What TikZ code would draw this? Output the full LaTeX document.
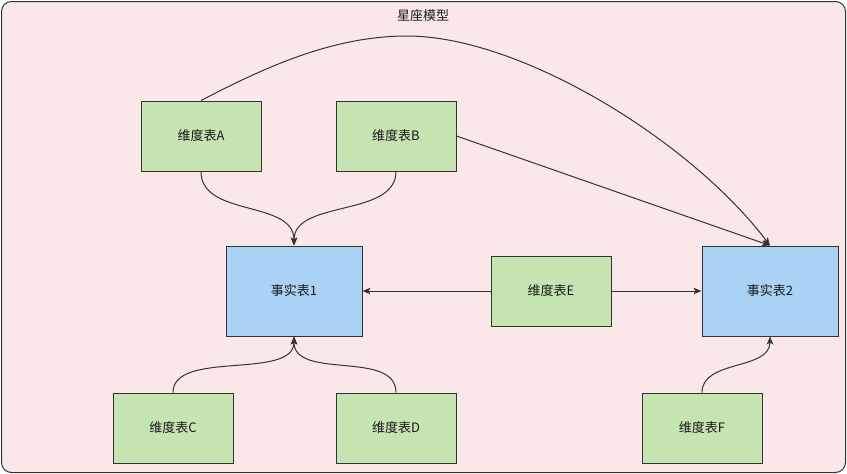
\documentclass[tikz,border=0pt]{standalone}
\usepackage{fontspec}
\setmainfont{Noto Sans CJK SC}
\usetikzlibrary{arrows.meta}
\definecolor{bgpink}{HTML}{FAE8E8}
\definecolor{dimgreen}{HTML}{C5E4B1}
\definecolor{factblue}{HTML}{AAD2F5}
\definecolor{edgegray}{HTML}{333333}
\begin{document}
\begin{tikzpicture}[x=1pt,y=-1pt,font=\fontsize{13}{15}\selectfont,
  box/.style={draw=edgegray,line width=1pt,inner sep=0pt,text=black!90},
  dim/.style={box,fill=dimgreen,minimum width=120pt,minimum height=70pt},
  fact/.style={box,fill=factblue,minimum width=136pt,minimum height=90pt},
  link/.style={draw=edgegray,line width=1pt,-{Stealth[length=8pt,width=6.5pt,inset=2pt]}}]
\useasboundingbox (0,0) rectangle (847,474);
\draw[draw=edgegray,fill=bgpink,line width=1pt,rounded corners=10pt] (1.5,1.5) rectangle (845.5,472.5);
\node[text=black!90] (title) at (423,16) {星座模型};
\node[dim] (A) at (201,136) {维度表A};
\node[dim] (B) at (396,136) {维度表B};
\node[fact] (f1) at (294,291) {事实表1};
\node[dim] (E) at (551,291) {维度表E};
\node[fact] (f2) at (770,291) {事实表2};
\node[dim] (C) at (173,428) {维度表C};
\node[dim] (D) at (396,428) {维度表D};
\node[dim] (F) at (702,428) {维度表F};
\coordinate (peak) at (407,36);
\draw[link] (A.south) .. controls +(0,46) and +(0,-46) .. (f1.north);
\draw[link] (B.south) .. controls +(0,46) and +(0,-46) .. (f1.north);
\draw[link] (C.north) .. controls +(0,-43) and +(0,44) .. (f1.south);
\draw[link] (D.north) .. controls +(0,-43) and +(0,44) .. (f1.south);
\draw[link] (F.north) .. controls +(0,-33) and +(0,34) .. (f2.south);
\draw[link] (E.west) -- (f1.east);
\draw[link] (E.east) -- (f2.west);
\draw[link] (B.east) -- (f2.north);
\draw[link] (A.north) .. controls (260,70) and (330,36) .. (peak) .. controls (520,36) and (690,140) .. (f2.north);
\end{tikzpicture}
\end{document}
